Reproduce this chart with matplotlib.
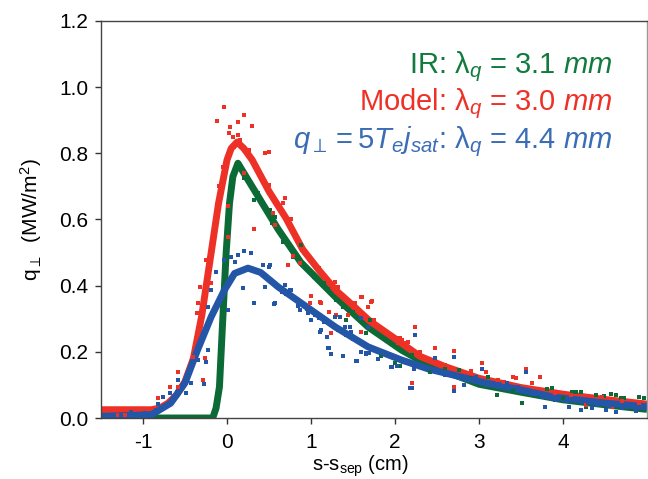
import matplotlib
matplotlib.use("Agg")
import matplotlib.pyplot as plt

plt.rcParams['font.family'] = ['Liberation Sans', 'DejaVu Sans']
plt.rcParams['mathtext.fontset'] = 'custom'
plt.rcParams['mathtext.rm'] = 'Liberation Sans'
plt.rcParams['mathtext.it'] = 'Liberation Sans:italic'
plt.rcParams['axes.unicode_minus'] = False

RED = '#ee3127'
GREEN = '#0b6a35'
BLUE = '#2456a7'

# fitted profiles
red_x = [-1.5, -0.9, -0.8, -0.7, -0.6, -0.5, -0.4, -0.3, -0.2, -0.1, 0.0, 0.05, 0.12, 0.2,
         0.3, 0.5, 0.7, 0.9, 1.1, 1.3, 1.5, 1.7, 2.0, 2.3, 2.6, 3.0, 3.5, 4.0, 4.5, 5.0]
red_y = [0.025, 0.025, 0.03, 0.045, 0.07, 0.11, 0.18, 0.31, 0.48, 0.65, 0.78, 0.815, 0.834, 0.815,
         0.78, 0.685, 0.605, 0.51, 0.445, 0.385, 0.34, 0.293, 0.24, 0.186, 0.155, 0.12, 0.092, 0.072, 0.056, 0.042]

green_x = [-1.5, -0.17, -0.13, -0.09, -0.05, -0.01, 0.03, 0.07, 0.13, 0.25, 0.49, 0.61, 0.88,
           1.29, 1.68, 2.08, 2.4, 3.0, 3.5, 4.0, 4.5, 5.0]
green_y = [0.0, 0.0, 0.03, 0.094, 0.3, 0.5, 0.65, 0.73, 0.77, 0.72, 0.62, 0.57, 0.47,
           0.366, 0.275, 0.205, 0.16, 0.102, 0.078, 0.055, 0.04, 0.026]

blue_x = [-1.5, -0.9, -0.8, -0.67, -0.5, -0.35, -0.19, -0.03, 0.09, 0.25, 0.4, 0.61, 0.88,
          1.29, 1.68, 2.08, 2.4, 3.08, 3.5, 3.87, 4.5, 5.0]
blue_y = [0.005, 0.01, 0.025, 0.045, 0.106, 0.206, 0.305, 0.387, 0.437, 0.453, 0.44, 0.396, 0.348,
          0.275, 0.215, 0.175, 0.148, 0.106, 0.085, 0.064, 0.045, 0.034]

# measured points
red_px = [-0.04, -0.12, 0.04, 0.13, 0.2, 0.3, 0.02, 0.07, 0.13, 0.45, 0.5, 0.2, 0.5, 0.69, 0.67,
          0.76, 0.01, 0.32, 0.55, 0.01, -0.25, -0.32, -0.19, -0.35, -0.36, -0.32, -0.41, -0.26,
          -0.29, -0.58, -0.68, -0.58, -0.82, -1.3, -1.22, 0.99, 1.11, 0.73, 0.87, 1.09, 0.57,
          0.79, 1.0, 1.12, 1.28, 1.32, 1.22, 1.41, 1.52, 1.61, 1.68, 1.73, 1.75, 1.24, 1.59,
          2.24, 2.2, 2.06, 2.14, 2.04, 1.3, 1.44, 1.6, 1.72, 2.02, 2.08, 2.15, 2.48, 2.7, 2.7,
          3.03, 2.9, 3.23, 3.41, 3.56, 3.63, 3.73, 4.27, 4.58, 3.08, 3.44, 4.46, 0.95, 1.05,
          1.9, 2.3, 2.6, 3.3, 3.9, 4.1, 4.7, 4.9, -0.1, -0.05, 0.08, 0.16, 0.26]
red_py = [0.94, 0.898, 0.88, 0.895, 0.916, 0.883, 0.862, 0.85, 0.855, 0.8, 0.805, 0.74, 0.705,
          0.665, 0.65, 0.6, 0.64, 0.57, 0.62, 0.547, 0.478, 0.396, 0.408, 0.348, 0.317, 0.287,
          0.184, 0.181, 0.115, 0.139, 0.094, 0.094, 0.06, 0.009, 0.009, 0.348, 0.35, 0.462,
          0.468, 0.453, 0.583, 0.49, 0.369, 0.348, 0.411, 0.396, 0.32, 0.363, 0.348, 0.366,
          0.335, 0.354, 0.296, 0.257, 0.26, 0.275, 0.106, 0.242, 0.227, 0.227, 0.311, 0.311,
          0.366, 0.351, 0.242, 0.236, 0.23, 0.212, 0.203, 0.094, 0.166, 0.142, 0.115, 0.124,
          0.148, 0.106, 0.124, 0.039, 0.033, 0.139, 0.121, 0.063, 0.49, 0.46, 0.26, 0.2,
          0.16, 0.11, 0.075, 0.07, 0.05, 0.045, 0.7, 0.76, 0.82, 0.84, 0.81]

green_px = [0.32, 0.37, 0.48, 0.57, 0.2, 0.51, 0.67, 0.79, 0.88, 1.03, 1.15, 1.42, 1.71, 1.65,
            1.83, 2.0, 2.06, 0.53, 1.3, 1.38, 1.7, 2.42, 2.76, 3.11, 3.21, 3.51, 3.87, 4.15,
            4.22, 4.39, 4.49, 4.63, 4.73, 4.9, 4.96, 3.81, 4.11, 4.57, 4.69, 4.27, 0.15, 0.1,
            1.2, 1.5, 2.2, 2.6, 2.9, 3.4, 3.7, 4.0]
green_py = [0.659, 0.68, 0.629, 0.608, 0.725, 0.629, 0.532, 0.487, 0.523, 0.426, 0.408, 0.296,
            0.296, 0.257, 0.187, 0.166, 0.157, 0.59, 0.357, 0.336, 0.296, 0.139, 0.145, 0.124,
            0.07, 0.045, 0.091, 0.079, 0.079, 0.07, 0.067, 0.07, 0.06, 0.063, 0.06, 0.088,
            0.079, 0.073, 0.06, 0.033, 0.76, 0.74, 0.39, 0.32, 0.19, 0.15, 0.12, 0.085, 0.07, 0.06]

blue_px = [-0.13, -0.04, 0.05, 0.13, 0.2, 0.29, 0.1, 0.19, 0.01, 0.32, -0.19, -0.23, -0.31,
           -0.23, -0.35, -0.25, -0.27, -0.43, -0.5, -0.49, -0.58, -0.68, -0.76, -0.82, -0.9,
           -0.98, -1.14, -1.26, 0.45, 0.5, 0.43, 0.57, 0.69, 0.75, 0.87, 1.0, 1.12, 1.2, 1.09,
           0.51, 0.56, 0.76, 1.11, 1.19, 1.28, 1.35, 1.22, 1.24, 1.38, 1.47, 1.54, 1.6, 1.65,
           1.69, 1.6, 1.68, 1.8, 1.96, 2.02, 2.23, 2.2, 2.24, 1.48, 1.41, 0.97, 1.55, 1.59,
           1.66, 1.95, 2.18, 2.48, 2.7, 2.7, 2.82, 3.03, 2.96, 3.23, 3.33, 3.47, 3.56, 3.75,
           3.79, 3.91, 4.07, 4.22, 4.34, 4.51, 4.63, 4.7, 4.87,
           1.05, 1.15, 1.25, 1.32, 1.42, 1.5, 1.58, 1.7, 1.75, 1.85, 1.9, 2.1, 2.15, 2.3, 2.35,
           2.45, 2.55, 2.6, 2.65, 2.75, 2.85, 2.9, 3.0, 3.1, 3.15, 3.25, 3.35, 3.4, 3.6, 3.65,
           3.7, 3.85, 3.95, 4.05, 4.1, 4.3, 4.4, 4.45, 4.55, 4.6, 4.75, 4.8, 4.9, 4.95, 0.6,
           0.65, 0.7, 0.8, 0.85, 0.95, -0.6, -0.4, -0.3, -0.1, -1.05, -0.85]
blue_py = [0.441, 0.478, 0.487, 0.493, 0.505, 0.499, 0.472, 0.393, 0.326, 0.348, 0.387, 0.336,
           0.236, 0.206, 0.175, 0.169, 0.103, 0.106, 0.109, 0.076, 0.115, 0.076, 0.063, 0.042,
           0.015, 0.015, 0.018, 0.009, 0.396, 0.457, 0.462, 0.348, 0.402, 0.387, 0.326, 0.296,
           0.266, 0.212, 0.302, 0.462, 0.345, 0.387, 0.26, 0.245, 0.305, 0.305, 0.212, 0.193,
           0.187, 0.275, 0.172, 0.2, 0.193, 0.196, 0.302, 0.275, 0.178, 0.154, 0.157, 0.148,
           0.091, 0.251, 0.26, 0.275, 0.317, 0.172, 0.2, 0.196, 0.154, 0.091, 0.181, 0.184,
           0.082, 0.1, 0.148, 0.124, 0.094, 0.106, 0.094, 0.139, 0.063, 0.033, 0.054, 0.033,
           0.024, 0.03, 0.024, 0.018, 0.03, 0.021,
           0.31, 0.29, 0.28, 0.265, 0.25, 0.24, 0.23, 0.215, 0.205, 0.195, 0.19, 0.17, 0.165,
           0.155, 0.15, 0.145, 0.14, 0.13, 0.135, 0.125, 0.12, 0.118, 0.11, 0.1, 0.104, 0.098,
           0.09, 0.095, 0.08, 0.075, 0.072, 0.06, 0.058, 0.05, 0.055, 0.045, 0.04, 0.048, 0.035,
           0.04, 0.033, 0.038, 0.03, 0.035, 0.4, 0.38, 0.375, 0.36, 0.34, 0.33, 0.08, 0.17,
           0.24, 0.36, 0.012, 0.025]

fig = plt.figure(figsize=(6.48, 4.79), dpi=100)
ax = fig.add_axes([101 / 648, 1 - 418 / 479, 546 / 648, 397 / 479])

ax.plot(green_x, green_y, color=GREEN, lw=5, solid_capstyle='butt', zorder=2)
ax.plot(red_x, red_y, color=RED, lw=5, solid_capstyle='butt', zorder=2)
ax.plot(blue_x, blue_y, color=BLUE, lw=5, solid_capstyle='butt', zorder=2)

ax.scatter(green_px, green_py, s=9, marker='s', color=GREEN, lw=0, zorder=3)
ax.scatter(red_px, red_py, s=9, marker='s', color=RED, lw=0, zorder=3)
ax.scatter(blue_px, blue_py, s=9, marker='s', color=BLUE, lw=0, zorder=3)

ax.set_xlim(-1.5, 5)
ax.set_ylim(0, 1.2)
ax.set_xticks([-1, 0, 1, 2, 3, 4])
ax.set_yticks([0, 0.2, 0.4, 0.6, 0.8, 1.0, 1.2])
ax.set_yticklabels(['0.0', '0.2', '0.4', '0.6', '0.8', '1.0', '1.2'])
ax.tick_params(direction='out', length=4, width=1, labelsize=15, colors='#333333',
               labelcolor='black')
ax.tick_params(axis='x', pad=7)
ax.tick_params(axis='y', pad=5)
for sp in ax.spines.values():
    sp.set_color('#444444')
    sp.set_linewidth(1)
ax.spines['right'].set_color('#999999')

ax.set_xlabel('s-s$_\\mathrm{sep}$ (cm)', fontsize=14.5)
ax.xaxis.set_label_coords((360 - 101) / 546, -0.09)
ax.set_ylabel('q$_\\perp$  (MW/m$^2$)', fontsize=15)
ax.yaxis.set_label_coords(-0.104, 0.5)

tx = (612 - 101) / 546
ax.text(tx, (418 - 73) / 397, 'IR: λ$_q$ = 3.1 $mm$', color='#117a3e', fontsize=21,
        ha='right', va='baseline', transform=ax.transAxes)
ax.text(tx, (418 - 110) / 397, 'Model: λ$_q$ = 3.0 $mm$', color=RED, fontsize=21,
        ha='right', va='baseline', transform=ax.transAxes)
ax.text(tx, (418 - 148) / 397, '$q_\\perp = 5T_ej_{sat}$: λ$_q$ = 4.4 $mm$', color='#3a6db5',
        fontsize=21, ha='right', va='baseline', transform=ax.transAxes)

fig.savefig('out.png', dpi=100)
